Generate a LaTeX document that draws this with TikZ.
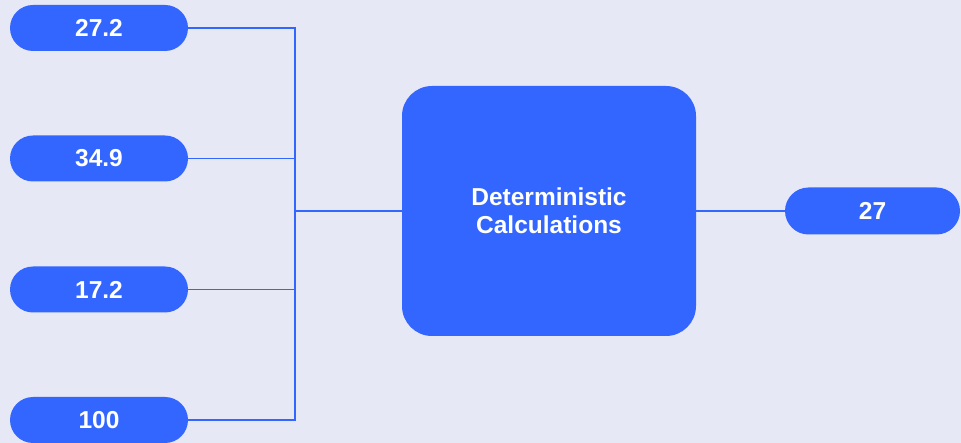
\documentclass[tikz,border=0pt]{standalone}
\usepackage{fontspec}
\setmainfont{Liberation Sans}
\definecolor{bgcol}{HTML}{E6E8F6}
\definecolor{bluecol}{HTML}{3366FF}
\begin{document}
\begin{tikzpicture}[x=1pt,y=-1pt,
  pill/.style={rectangle, rounded corners=23pt, fill=bluecol, text=white,
    minimum width=178pt, minimum height=46pt, inner sep=0pt,
    font=\bfseries\fontsize{24.5}{28}\selectfont},
  bigbox/.style={rectangle, rounded corners=30pt, fill=bluecol, text=white,
    minimum width=294pt, minimum height=250pt, inner sep=0pt, align=center,
    font=\bfseries\fontsize{24.5}{28}\selectfont},
  link/.style={draw=bluecol, line width=1.8pt}]
  \fill[bgcol] (0,0) rectangle (961,443);
  \useasboundingbox (0,0) rectangle (961,443);

  % input values
  \node[pill] (a) at (99,28) {27.2};
  \node[pill] (b) at (99,158.5) {34.9};
  \node[pill] (c) at (99,289.5) {17.2};
  \node[pill] (d) at (99,420) {100};

  % calculation block and result
  \node[bigbox] (calc) at (549,211) {Deterministic\\Calculations};
  \node[pill, minimum width=175pt, minimum height=47pt, rounded corners=23.5pt] (out) at (872.5,211) {27};

  % junction on the collecting bus
  \coordinate (j) at (295,211);

  \draw[link] (a.east) -| (j);
  \draw[link] (d.east) -| (j);
  \draw[link] (b.east) -- (b.east -| j);
  \draw[link] (c.east) -- (c.east -| j);
  \draw[link] (j) -- (calc.west);
  \draw[link] (calc.east) -- (out.west);
\end{tikzpicture}
\end{document}
